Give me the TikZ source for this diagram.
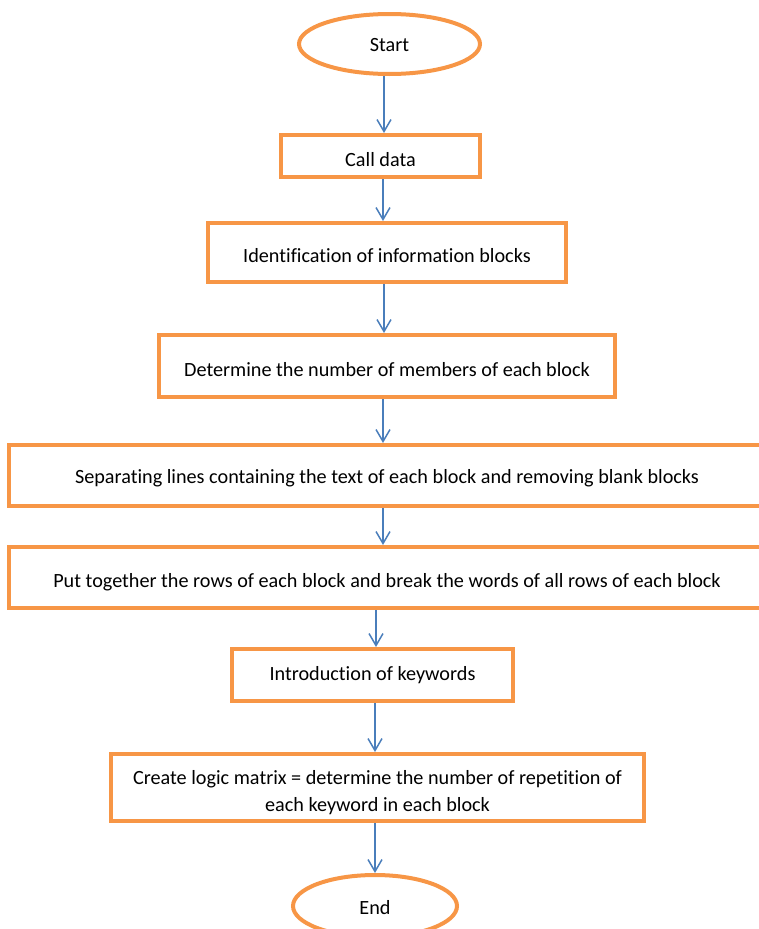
\documentclass[tikz,border=0pt]{standalone}
\usepackage{fontspec}
\setmainfont{Carlito}[Ligatures=NoCommon]
\usetikzlibrary{shapes.geometric,arrows.meta}
\definecolor{boxorange}{HTML}{F79646}
\definecolor{arrowblue}{HTML}{4A7EBB}

\begin{document}
\begin{tikzpicture}[x=1pt,y=-1pt,
        box/.style = {draw=boxorange, line width=4pt, rectangle, inner sep=0pt, align=center, text height=20pt, text depth=0pt},
        term/.style = {draw=boxorange, line width=4pt, ellipse, inner sep=0pt, text depth=0pt},
        flow/.style = {draw=arrowblue, line width=1.5pt, -{Straight Barb[length=12pt,width=14pt]}},
        font=\fontsize{20.2}{27}\selectfont]
        \useasboundingbox (0,0) rectangle (759,929);
        \node[term, minimum width=181pt, minimum height=60pt, text height=14pt] (start) at (389.5,44) {Start};
        \node[box, minimum width=199pt, minimum height=42pt] (call) at (380.5,156) {Call data};
        \node[box, minimum width=358pt, minimum height=59pt] (ident) at (387,252.5) {Identification of information blocks};
        \node[box, minimum width=456pt, minimum height=62pt] (members) at (387,366) {Determine the number of members of each block};
        \node[box, minimum width=756pt, minimum height=61pt, text height=16pt] (separate) at (387,475.5) {Separating lines containing the text of each block and removing blank blocks};
        \node[box, minimum width=756pt, minimum height=61pt] (rows) at (387,577.5) {Put together the rows of each block and break the words of all rows of each block};
        \node[box, minimum width=281pt, minimum height=52pt, text height=10pt] (keywords) at (372.5,675) {Introduction of keywords};
        \node[box, minimum width=533pt, minimum height=67pt, text height=47pt] (matrix) at (377.5,787.5) {Create logic matrix = determine the number of repetition of\\ each keyword in each block};
        \node[term, minimum width=164pt, minimum height=62pt, text height=16pt] (end) at (375,906) {End};
        \draw[flow] ([xshift=-5.5pt]start.south) -- ([xshift=3.5pt]call.north);
        \draw[flow] ([xshift=2.5pt]call.south) -- ([xshift=-4pt]ident.north);
        \draw[flow] ([xshift=-3pt]ident.south) -- ([xshift=-3pt]members.north);
        \draw[flow] ([xshift=-4pt]members.south) -- ([xshift=-4pt]separate.north);
        \draw[flow] ([xshift=-4pt]separate.south) -- ([xshift=-4pt]rows.north);
        \draw[flow] ([xshift=-11pt]rows.south) -- ([xshift=3.5pt]keywords.north);
        \draw[flow] ([xshift=2.5pt]keywords.south) -- ([xshift=-2.5pt]matrix.north);
        \draw[flow] ([xshift=-2.5pt]matrix.south) -- (end.north);
        \end{tikzpicture}
\end{document}
